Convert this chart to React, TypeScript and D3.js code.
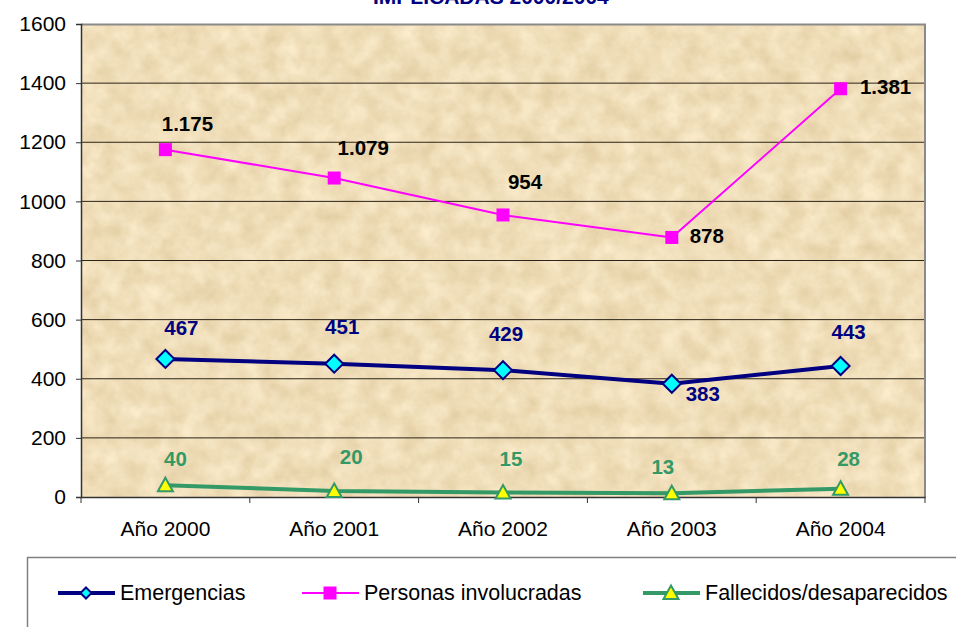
import React, { useEffect, useRef } from 'react';
import * as d3 from 'd3';

// Categories and series
const years = ['Año 2000', 'Año 2001', 'Año 2002', 'Año 2003', 'Año 2004'];
const emergencias = [467, 451, 429, 383, 443];
const personas = [1175, 1079, 954, 878, 1381];
const fallecidos = [40, 20, 15, 13, 28];
const yTicks = [0, 200, 400, 600, 800, 1000, 1200, 1400, 1600];

// label placement relative to each point (dx, dy to baseline)
const emergOffsets = [[16, -24], [8, -30], [3, -29], [31, 17], [8, -27]];
const personasOffsets = [[22, -19], [29, -23], [22, -26], [35, 6], [45, 5]];
const fallecOffsets = [[10, -19], [17, -27], [8, -27], [-9, -19], [8, -23]];

const fmt = (v: number) => (v >= 1000 ? d3.format(',')(v).replace(',', '.') : String(v));

const App: React.FC = () => {
  const svgRef = useRef<SVGSVGElement>(null);

  useEffect(() => {
    if (!svgRef.current) return;
    const root = d3.select(svgRef.current);
    root.selectAll('*').remove();

    const width = 956;
    const height = 627;
    const margin = { top: 24, right: 31, bottom: 130, left: 81 };
    const w = width - margin.left - margin.right;
    const h = height - margin.top - margin.bottom;

    root.attr('width', width).attr('height', height);

    // Parchment texture
    const defs = root.append('defs');
    const filter = defs.append('filter')
      .attr('id', 'parchment')
      .attr('color-interpolation-filters', 'sRGB')
      .attr('x', 0).attr('y', 0).attr('width', '100%').attr('height', '100%');
    filter.append('feTurbulence')
      .attr('type', 'fractalNoise')
      .attr('baseFrequency', 0.05)
      .attr('numOctaves', 4)
      .attr('seed', 7)
      .attr('result', 'noise');
    filter.append('feColorMatrix')
      .attr('in', 'noise')
      .attr('type', 'matrix')
      .attr('values', '0.12 0 0 0 0.88  0.15 0 0 0 0.795  0.2 0 0 0 0.625  0 0 0 0 1');

    const g = root.append('g').attr('transform', `translate(${margin.left},${margin.top})`);

    const x = d3.scaleBand().domain(years).range([0, w]);
    const y = d3.scaleLinear().domain([0, 1600]).range([h, 0]);
    const cx = (d: string) => (x(d) as number) + x.bandwidth() / 2;

    g.append('rect')
      .attr('width', w)
      .attr('height', h)
      .attr('fill', '#eedcb6')
      .attr('filter', 'url(#parchment)');

    // Gridlines
    g.selectAll('.grid')
      .data(yTicks.filter(t => t > 0 && t < 1600))
      .enter()
      .append('line')
      .attr('x1', 0)
      .attr('x2', w)
      .attr('y1', d => y(d))
      .attr('y2', d => y(d))
      .attr('stroke', '#2b2418')
      .attr('stroke-width', 1);

    // Frame top/right
    g.append('path')
      .attr('d', `M0,0.5H${w}V${h}`)
      .attr('fill', 'none')
      .attr('stroke', '#8a8a8a')
      .attr('stroke-width', 2);

    // Axes
    const yAxis = d3.axisLeft(y).tickValues(yTicks).tickSize(5).tickPadding(10).tickFormat(d => String(d));
    const yg = g.append('g').call(yAxis);
    yg.select('.domain').attr('stroke', '#333').attr('stroke-width', 1.5);
    yg.selectAll('.tick line').attr('stroke', '#333');
    yg.selectAll('text')
      .attr('font-family', 'Arial, "Liberation Sans", sans-serif')
      .attr('font-size', 21)
      .attr('fill', '#000');

    const xAxis = d3.axisBottom(x).tickSize(0).tickPadding(0);
    const xg = g.append('g').attr('transform', `translate(0,${h})`).call(xAxis);
    xg.select('.domain').attr('stroke', '#333').attr('stroke-width', 1.5);
    xg.selectAll('text')
      .attr('font-family', 'Arial, "Liberation Sans", sans-serif')
      .attr('font-size', 21)
      .attr('fill', '#000')
      .attr('dy', null)
      .attr('y', 39);
    // boundary ticks between categories
    g.selectAll('.xtick')
      .data(years.concat(['end']))
      .enter()
      .append('line')
      .attr('x1', (d, i) => (i < years.length ? (x(d) as number) : w))
      .attr('x2', (d, i) => (i < years.length ? (x(d) as number) : w))
      .attr('y1', h)
      .attr('y2', h + 6)
      .attr('stroke', '#333');

    const series = [
      { values: personas, color: '#ff00ff', width: 2, marker: 'square', label: '#000', offsets: personasOffsets },
      { values: emergencias, color: '#000080', width: 4, marker: 'diamond', label: '#000080', offsets: emergOffsets },
      { values: fallecidos, color: '#339966', width: 4, marker: 'triangle', label: '#339966', offsets: fallecOffsets }
    ];

    const drawMarker = (sel: any, type: string, px: number, py: number, scale = 1) => {
      if (type === 'diamond') {
        const r = 9 * scale;
        sel.append('path')
          .attr('d', `M${px},${py - r}L${px + r},${py}L${px},${py + r}L${px - r},${py}Z`)
          .attr('fill', '#00ffff')
          .attr('stroke', '#000080')
          .attr('stroke-width', 2);
      } else if (type === 'square') {
        const s = 13;
        sel.append('rect')
          .attr('x', px - s / 2)
          .attr('y', py - s / 2)
          .attr('width', s)
          .attr('height', s)
          .attr('fill', '#ff00ff');
      } else {
        const r = 7.5;
        sel.append('path')
          .attr('d', `M${px},${py - r}L${px + r},${py + r * 0.8}L${px - r},${py + r * 0.8}Z`)
          .attr('fill', '#ffff00')
          .attr('stroke', '#339966')
          .attr('stroke-width', 2);
      }
    };

    const line = d3.line<number>()
      .x((d, i) => cx(years[i]))
      .y(d => y(d));

    series.forEach(s => {
      g.append('path')
        .datum(s.values)
        .attr('fill', 'none')
        .attr('stroke', s.color)
        .attr('stroke-width', s.width)
        .attr('stroke-linejoin', 'round')
        .attr('d', line);
      s.values.forEach((v, i) => drawMarker(g, s.marker, cx(years[i]), y(v)));
      g.selectAll(null)
        .data(s.values)
        .enter()
        .append('text')
        .attr('x', (d, i) => cx(years[i]) + s.offsets[i][0])
        .attr('y', (d, i) => y(d) + s.offsets[i][1])
        .attr('text-anchor', 'middle')
        .attr('font-family', 'Arial, "Liberation Sans", sans-serif')
        .attr('font-weight', 'bold')
        .attr('font-size', 20.5)
        .attr('fill', s.label)
        .text(d => fmt(d));
    });

    // Title (cut off at top, as in the original)
    root.append('text')
      .attr('x', 373)
      .attr('y', 4)
      .attr('font-family', 'Arial, "Liberation Sans", sans-serif')
      .attr('font-weight', 'bold')
      .attr('font-size', 21)
      .attr('fill', '#000080')
      .text('IMPLICADAS 2000/2004');

    // Legend
    const legend = root.append('g');
    legend.append('rect')
      .attr('x', 27.5)
      .attr('y', 557.5)
      .attr('width', 960)
      .attr('height', 100)
      .attr('fill', '#fff')
      .attr('stroke', '#808080')
      .attr('stroke-width', 1.5);

    const legendItems = [
      { name: 'Emergencias', color: '#000080', width: 4, marker: 'diamond', x0: 58 },
      { name: 'Personas involucradas', color: '#ff00ff', width: 2, marker: 'square', x0: 302 },
      { name: 'Fallecidos/desaparecidos', color: '#339966', width: 4, marker: 'triangle', x0: 643 }
    ];
    const ly = 593;
    legendItems.forEach(item => {
      legend.append('line')
        .attr('x1', item.x0)
        .attr('x2', item.x0 + 57)
        .attr('y1', ly)
        .attr('y2', ly)
        .attr('stroke', item.color)
        .attr('stroke-width', item.width);
      drawMarker(legend, item.marker, item.x0 + 28, ly, 0.62);
      legend.append('text')
        .attr('x', item.x0 + 62)
        .attr('y', ly + 7)
        .attr('font-family', 'Arial, "Liberation Sans", sans-serif')
        .attr('font-size', 21.5)
        .attr('fill', '#000')
        .text(item.name);
    });
  }, []);

  return (
    <svg ref={svgRef} style={{ position: 'absolute', left: 0, top: 0 }} />
  );
};

export default App;
